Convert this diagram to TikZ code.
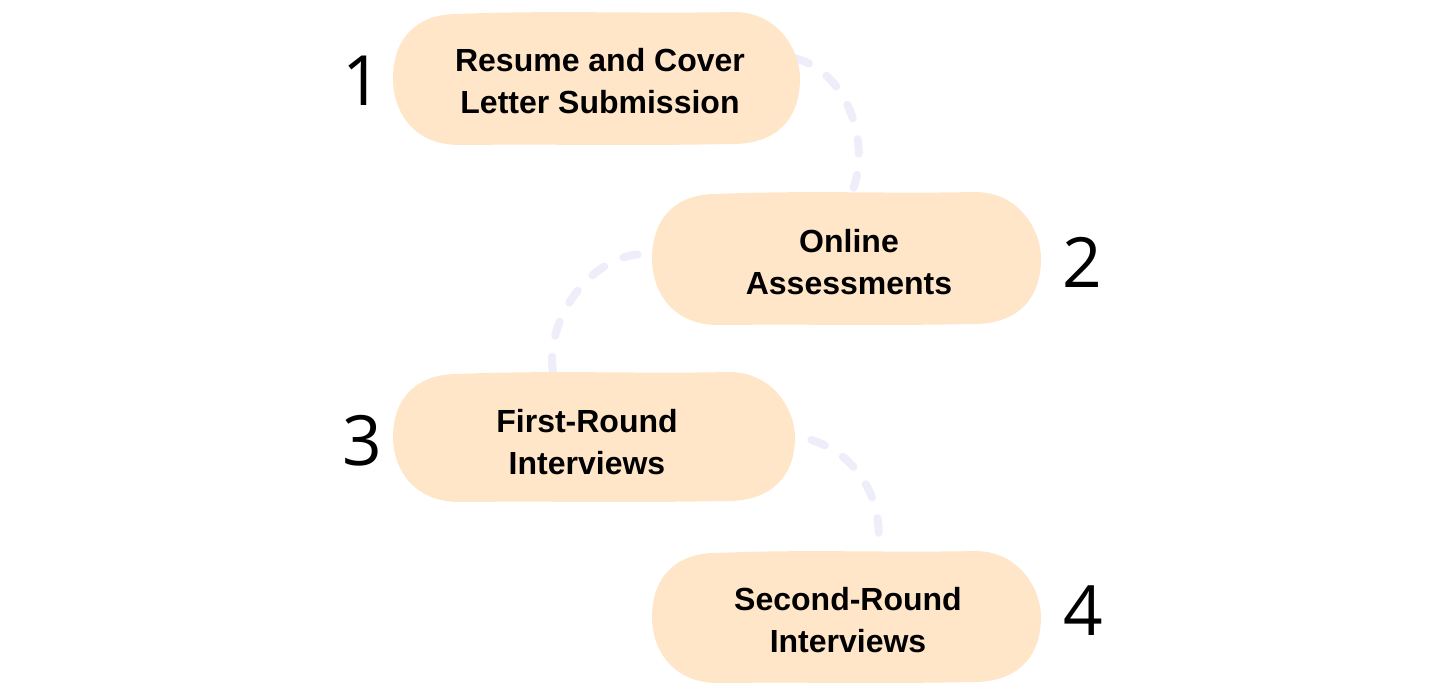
\documentclass[tikz,border=0pt]{standalone}
\usepackage{fontspec}
\setmainfont{Liberation Sans}
\newfontfamily\numfont{Open Sans}
\usetikzlibrary{calc}
\definecolor{peach}{HTML}{FFE6C9}
\definecolor{dashc}{HTML}{EEEDFA}
\newcommand\blobfill[4]{%
  \fill[peach] ({#1+64},{#2+2}) .. controls ({#1+160},{#2-2}) and ({#3-160},{#2+2}) .. ({#3-66},{#2})
    .. controls ({#3-22},{#2}) and ({#3},{#2+38}) .. ({#3},{(#2+#4)/2})
    .. controls ({#3},{#4-22}) and ({#3-28},{#4}) .. ({#3-70},{#4-1})
    .. controls ({#3-160},{#4+1}) and ({#1+160},{#4-1}) .. ({#1+66},{#4})
    .. controls ({#1+20},{#4}) and ({#1},{#4-34}) .. ({#1},{(#2+#4)/2})
    .. controls ({#1},{#2+26}) and ({#1+24},{#2+2}) .. cycle;}
\begin{document}
\begin{tikzpicture}[x=0.75pt,y=-0.75pt,
  steptext/.style={font=\bfseries\fontsize{24}{32}\selectfont, align=center, text=black},
  num/.style={font=\numfont\fontsize{52}{60}\selectfont, text=black, inner sep=0pt},
  conn/.style={draw=dashc, line width=6pt, line cap=round, dash pattern=on 11pt off 16pt}]
\useasboundingbox (0,0) rectangle (1435,691);
% blob placeholders
\node[minimum width=305.25pt, minimum height=99.75pt, inner sep=0pt] (b1) at (596.5,78.5) {};
\node[minimum width=291.75pt, minimum height=99.75pt, inner sep=0pt] (b2) at (846.5,258.5) {};
\node[minimum width=301.5pt, minimum height=97.5pt, inner sep=0pt] (b3) at (594,437) {};
\node[minimum width=291.75pt, minimum height=99pt, inner sep=0pt] (b4) at (846.5,617) {};
% connectors
\draw[conn] ($(b1.east)+(-5,-20)$) .. controls +(50,12) and +(17,-48) .. ($(b2.north)+(7,-4)$);
\draw[conn] ($(b2.west)+(-14,-4)$) .. controls +(-48,4) and +(-8,-52) .. ($(b3.north)+(-41,0)$);
\draw[conn] ($(b3.east)+(16,3)$) .. controls +(49,15) and +(7,-44) .. ($(b4.north)+(31,-2)$);
% blobs
\blobfill{393}{12}{800}{145}
\blobfill{652}{192}{1041}{325}
\blobfill{393}{372}{795}{502}
\blobfill{652}{551}{1041}{683}
% texts
\node[steptext] (t1) at (600,81) {Resume and Cover\\Letter Submission};
\node[steptext] (t2) at (849,262) {Online\\Assessments};
\node[steptext] (t3) at (587,442) {First-Round\\Interviews};
\node[steptext] (t4) at (848,620) {Second-Round\\Interviews};
% numbers
\node[num] (n1) at (362,81) {1};
\node[num] (n2) at (1082,262) {2};
\node[num] (n3) at (362,441) {3};
\node[num] (n4) at (1083,611) {4};
\end{tikzpicture}
\end{document}
